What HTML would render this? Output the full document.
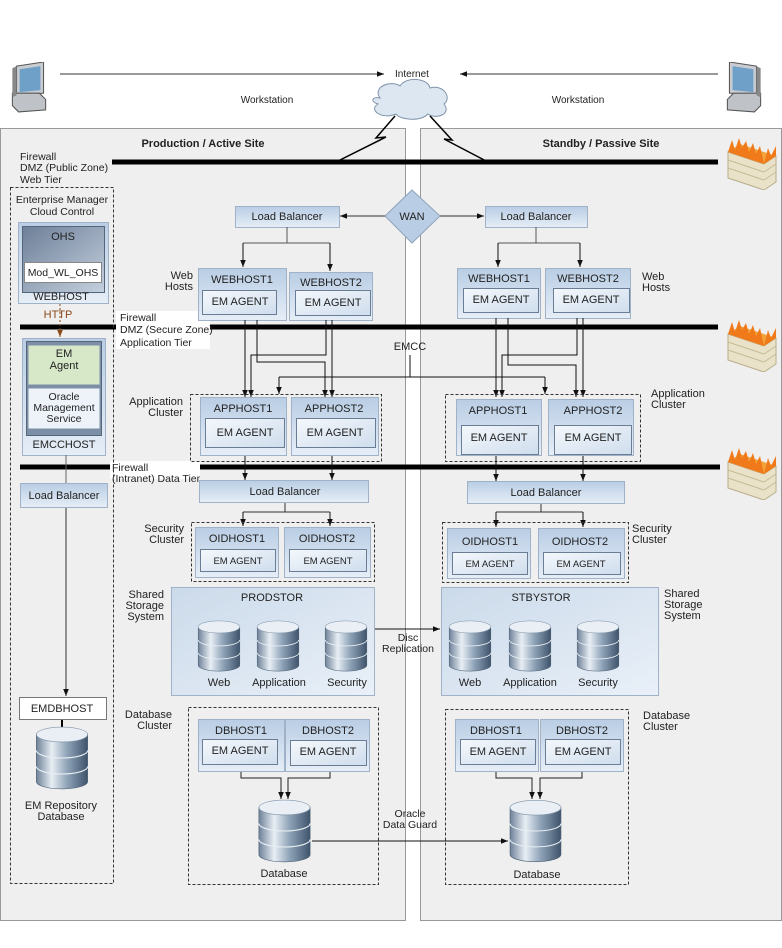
<!DOCTYPE html>
<html><head><meta charset="utf-8"><style>
body{margin:0;background:#fff}
svg{display:block;font-family:"Liberation Sans",sans-serif;font-size:11px;fill:#222}
</style></head><body>
<svg width="782" height="948" viewBox="0 0 782 948" xmlns="http://www.w3.org/2000/svg">
<defs>
<linearGradient id="hb" x1="0" y1="0" x2="0" y2="1"><stop offset="0" stop-color="#b9cde4"/><stop offset="1" stop-color="#e6eef7"/></linearGradient>
<linearGradient id="ib" x1="0" y1="0" x2="1" y2="1"><stop offset="0" stop-color="#f4f8fc"/><stop offset="1" stop-color="#cfdded"/></linearGradient>
<linearGradient id="sb" x1="0" y1="0" x2="1" y2="1"><stop offset="0" stop-color="#cbdaea"/><stop offset="1" stop-color="#e9f0f8"/></linearGradient>
<linearGradient id="cy" x1="0" y1="0" x2="1" y2="0"><stop offset="0" stop-color="#6f8299"/><stop offset=".3" stop-color="#e8eef4"/><stop offset=".6" stop-color="#8fa3b8"/><stop offset="1" stop-color="#3f536b"/></linearGradient>
<linearGradient id="dk" x1="0" y1="0" x2="1" y2="1"><stop offset="0" stop-color="#6d7f98"/><stop offset="1" stop-color="#c4d0de"/></linearGradient>
<marker id="a" viewBox="0 0 10 10" refX="10" refY="5" markerWidth="7" markerHeight="7" orient="auto"><path d="M0,1 L10,5 L0,9 z" fill="#111"/></marker>
<marker id="ab" viewBox="0 0 10 10" refX="10" refY="5" markerWidth="7" markerHeight="7" orient="auto"><path d="M0,1 L10,5 L0,9 z" fill="#8a4a1a"/></marker>
<symbol id="cyl" viewBox="0 0 50 60">
<path d="M1,8 V52 A24,7 0 0 0 49,52 V8 z" fill="url(#cy)" stroke="#4a5d72" stroke-width=".6"/>
<path d="M1,23 A24,7 0 0 0 49,23 M1,38 A24,7 0 0 0 49,38" fill="none" stroke="#e8eef4" stroke-width="1"/>
<ellipse cx="25" cy="8" rx="24" ry="7" fill="#e9eff5" stroke="#7f92a8" stroke-width=".6"/>
</symbol>
<symbol id="fw" viewBox="0 0 56 52">
<path d="M4,14 L40,26 L52,18 L52,44 L40,52 L4,40 z" fill="#e9e2c8" stroke="#b8ad8a"/>
<path d="M4,14 L40,26 L52,18 L16,6 z" fill="#f2a33a"/>
<path d="M4,14 L8,2 L11,12 L15,0 L18,10 L22,3 L25,14 L29,5 L32,16 L36,8 L40,26 L44,10 L47,18 L52,8 L52,18 L40,26 z" fill="#f07a1a"/>
<path d="M4,22 L40,34 M4,30 L40,42 M40,34 L52,26 M40,42 L52,34" stroke="#c6bb98" fill="none"/>
</symbol>
<symbol id="ws" viewBox="0 0 40 50">
<path d="M8,4 L34,0 L34,30 L8,32 z" fill="#c9cdd2" stroke="#555"/>
<path d="M11,7 L31,4 L31,27 L11,29 z" fill="#6fa0c8"/>
<path d="M4,30 L30,30 L36,36 L36,46 L10,48 L4,42 z" fill="#bfc3c8" stroke="#555"/>
<path d="M4,6 L8,4 L8,32 L4,34 z" fill="#888"/>
</symbol>
</defs>

<!-- panels -->
<rect x="0.5" y="128.5" width="405" height="792" fill="#efefef" stroke="#999"/>
<rect x="420.5" y="128.5" width="361" height="792" fill="#efefef" stroke="#999"/>
<text x="203" y="147" text-anchor="middle" font-weight="bold">Production / Active Site</text>
<text x="601" y="147" text-anchor="middle" font-weight="bold">Standby / Passive Site</text>

<!-- top -->
<use href="#ws" x="8" y="62" width="42" height="52"/>
<use href="#ws" x="722" y="62" width="44" height="52" transform="translate(1488,0) scale(-1,1)"/>
<line x1="60" y1="74" x2="384" y2="74" stroke="#333" marker-end="url(#a)"/>
<line x1="718" y1="74" x2="460" y2="74" stroke="#333" marker-end="url(#a)"/>
<text x="412" y="77" text-anchor="middle" font-size="10">Internet</text>
<text x="267" y="103" text-anchor="middle" font-size="10">Workstation</text>
<text x="578" y="103" text-anchor="middle" font-size="10">Workstation</text>
<path d="M380,98 C372,86 392,80 400,86 C406,76 428,78 430,88 C444,84 452,98 444,104 C452,114 436,120 428,114 C420,122 400,120 396,114 C382,120 368,110 378,104 C370,102 372,96 380,98 z" fill="#dde7f2" stroke="#8094aa"/>
<polyline points="395,116 376,138 386,137 336,162" fill="none" stroke="#000" stroke-width="1.5"/>
<polyline points="430,116 452,140 444,139 488,162" fill="none" stroke="#000" stroke-width="1.5"/>

<!-- firewalls -->
<line x1="112" y1="162" x2="718" y2="162" stroke="#000" stroke-width="5"/>
<text font-size="10.5"><tspan x="20" y="160">Firewall</tspan><tspan x="20" y="171">DMZ (Public Zone)</tspan><tspan x="20" y="183">Web Tier</tspan></text>
<use href="#fw" x="724" y="138" width="56" height="52"/>
<line x1="20" y1="327" x2="718" y2="327" stroke="#000" stroke-width="5"/>
<rect x="116" y="311" width="94" height="38" fill="#fff"/>
<text font-size="10.5"><tspan x="120" y="321">Firewall</tspan><tspan x="120" y="333">DMZ (Secure Zone)</tspan><tspan x="120" y="346">Application Tier</tspan></text>
<use href="#fw" x="724" y="320" width="56" height="52"/>
<line x1="20" y1="467" x2="720" y2="467" stroke="#000" stroke-width="5"/>
<rect x="110" y="461" width="90" height="18" fill="#fff"/>
<text font-size="10.5"><tspan x="112" y="471">Firewall</tspan><tspan x="112" y="482">(Intranet) Data Tier</tspan></text>
<use href="#fw" x="724" y="448" width="56" height="52"/>

<!-- EM box -->
<rect x="10.5" y="187.5" width="103" height="696" fill="none" stroke="#333" stroke-dasharray="3,2"/>
<text text-anchor="middle" font-size="10.5"><tspan x="62" y="203">Enterprise Manager</tspan><tspan x="62" y="215">Cloud Control</tspan></text>
<rect x="18.5" y="222.5" width="90" height="81" fill="url(#hb)" stroke="#9fb2c8"/>
<rect x="22.5" y="226.5" width="82" height="66" fill="url(#dk)" stroke="#55657a"/>
<text x="63" y="240" text-anchor="middle">OHS</text>
<rect x="24.5" y="262.5" width="77" height="20" fill="#fff" stroke="#888"/>
<text x="63" y="276" text-anchor="middle" font-size="10.5">Mod_WL_OHS</text>
<text x="61" y="300" text-anchor="middle">WEBHOST</text>
<text x="58" y="318" text-anchor="middle" fill="#8a4a1a">HTTP</text>
<line x1="60" y1="304" x2="60" y2="337" stroke="#8a4a1a" stroke-dasharray="2,2" marker-end="url(#ab)"/>
<rect x="22.5" y="338.5" width="83" height="117" fill="url(#hb)" stroke="#9fb2c8"/>
<rect x="26.5" y="341.5" width="75" height="94" fill="#7d8fa6" stroke="#55657a"/>
<rect x="28.5" y="345.5" width="71" height="39" fill="#d6e8c8"/>
<text text-anchor="middle"><tspan x="64" y="357">EM</tspan><tspan x="64" y="369">Agent</tspan></text>
<rect x="28.5" y="388.5" width="71" height="40" fill="#eef3fa"/>
<text text-anchor="middle" font-size="10.5"><tspan x="64" y="400">Oracle</tspan><tspan x="64" y="411">Management</tspan><tspan x="64" y="422">Service</tspan></text>
<text x="64" y="448" text-anchor="middle">EMCCHOST</text>
<line x1="66" y1="455" x2="66" y2="483" stroke="#666"/>
<rect x="20.5" y="483.5" width="87" height="24" fill="url(#hb)" stroke="#9fb2c8"/>
<text x="64" y="499" text-anchor="middle">Load Balancer</text>
<line x1="66" y1="508" x2="66" y2="696" stroke="#333" marker-end="url(#a)"/>
<rect x="19.5" y="697.5" width="87" height="22" fill="#fff" stroke="#777"/>
<text x="62" y="712" text-anchor="middle">EMDBHOST</text>
<line x1="62" y1="720" x2="62" y2="728" stroke="#000" stroke-width="2"/>
<use href="#cyl" x="32" y="726" width="60" height="64"/>
<text text-anchor="middle"><tspan x="61" y="809">EM Repository</tspan><tspan x="61" y="820">Database</tspan></text>

<!-- WAN -->
<polygon points="412,190 440,216 412,243 385,216" fill="#b9cde4" stroke="#8fa3bb"/>
<text x="412" y="220" text-anchor="middle">WAN</text>
<line x1="385" y1="216" x2="340" y2="216" stroke="#333" marker-end="url(#a)"/>
<line x1="440" y1="216" x2="484" y2="216" stroke="#333" marker-end="url(#a)"/>

<!-- LEFT load balancer & web hosts -->
<rect x="235.5" y="206.5" width="104" height="21" fill="url(#hb)" stroke="#9fb2c8"/>
<text x="287" y="220" text-anchor="middle">Load Balancer</text>
<path d="M287,227 V243 M243,243 H330" stroke="#555" fill="none"/>
<line x1="243" y1="243" x2="243" y2="267" stroke="#111" marker-end="url(#a)"/>
<line x1="330" y1="243" x2="330" y2="271" stroke="#111" marker-end="url(#a)"/>
<text text-anchor="end"><tspan x="193" y="279">Web</tspan><tspan x="193" y="290">Hosts</tspan></text>
<rect x="198.5" y="268.5" width="88" height="52" fill="url(#hb)" stroke="#9fb2c8"/>
<text x="242" y="283" text-anchor="middle">WEBHOST1</text>
<rect x="202.5" y="290.5" width="74" height="24" fill="url(#ib)" stroke="#6a7d94"/>
<text x="240" y="305" text-anchor="middle">EM AGENT</text>
<rect x="289.5" y="272.5" width="83" height="48" fill="url(#hb)" stroke="#9fb2c8"/>
<text x="331" y="286" text-anchor="middle">WEBHOST2</text>
<rect x="295.5" y="290.5" width="75" height="25" fill="url(#ib)" stroke="#6a7d94"/>
<text x="333" y="306" text-anchor="middle">EM AGENT</text>
<!-- web->app -->
<g stroke="#111" fill="none">
<line x1="245" y1="320" x2="245" y2="397" marker-end="url(#a)"/>
<path d="M257,320 V362 H325 V397" marker-end="url(#a)"/>
<path d="M326,320 V355 H251 V397" marker-end="url(#a)"/>
<line x1="332" y1="320" x2="332" y2="397" marker-end="url(#a)"/>
<path d="M410,355 V377"/>
<path d="M279,377 H545" />
<line x1="279" y1="377" x2="279" y2="394" marker-end="url(#a)"/>
<line x1="545" y1="377" x2="545" y2="394" marker-end="url(#a)"/>
</g>
<text x="410" y="350" text-anchor="middle">EMCC</text>
<rect x="190.5" y="394.5" width="191" height="67" fill="none" stroke="#333" stroke-dasharray="3,2"/>
<text text-anchor="end"><tspan x="183" y="405">Application</tspan><tspan x="183" y="416">Cluster</tspan></text>
<rect x="200.5" y="397.5" width="86" height="58" fill="url(#hb)" stroke="#9fb2c8"/>
<text x="243" y="412" text-anchor="middle">APPHOST1</text>
<rect x="205.5" y="418.5" width="79" height="29" fill="url(#ib)" stroke="#6a7d94"/>
<text x="245" y="436" text-anchor="middle">EM AGENT</text>
<rect x="291.5" y="397.5" width="87" height="58" fill="url(#hb)" stroke="#9fb2c8"/>
<text x="334" y="412" text-anchor="middle">APPHOST2</text>
<rect x="296.5" y="418.5" width="79" height="29" fill="url(#ib)" stroke="#6a7d94"/>
<text x="335" y="436" text-anchor="middle">EM AGENT</text>
<line x1="245" y1="456" x2="245" y2="480" stroke="#111" marker-end="url(#a)"/>
<line x1="332" y1="456" x2="332" y2="480" stroke="#111" marker-end="url(#a)"/>
<rect x="199.5" y="480.5" width="169" height="22" fill="url(#hb)" stroke="#9fb2c8"/>
<text x="285" y="495" text-anchor="middle">Load Balancer</text>
<path d="M285,503 V512 H243 M285,512 H330" stroke="#333" fill="none"/>
<line x1="243" y1="512" x2="243" y2="526" stroke="#111" marker-end="url(#a)"/>
<line x1="330" y1="512" x2="330" y2="526" stroke="#111" marker-end="url(#a)"/>
<rect x="191.5" y="522.5" width="183" height="59" fill="none" stroke="#333" stroke-dasharray="3,2"/>
<text text-anchor="end"><tspan x="184" y="532">Security</tspan><tspan x="184" y="543">Cluster</tspan></text>
<rect x="195.5" y="527.5" width="83" height="50" fill="url(#hb)" stroke="#9fb2c8"/>
<text x="237" y="542" text-anchor="middle">OIDHOST1</text>
<rect x="200.5" y="549.5" width="75" height="22" fill="url(#ib)" stroke="#6a7d94"/>
<text x="238" y="564" text-anchor="middle" font-size="9.5">EM AGENT</text>
<rect x="284.5" y="527.5" width="86" height="50" fill="url(#hb)" stroke="#9fb2c8"/>
<text x="327" y="542" text-anchor="middle">OIDHOST2</text>
<rect x="289.5" y="549.5" width="77" height="22" fill="url(#ib)" stroke="#6a7d94"/>
<text x="328" y="564" text-anchor="middle" font-size="9.5">EM AGENT</text>
<text text-anchor="end"><tspan x="164" y="598">Shared</tspan><tspan x="164" y="609">Storage</tspan><tspan x="164" y="620">System</tspan></text>
<rect x="171.5" y="587.5" width="203" height="108" fill="url(#sb)" stroke="#9fb2c8"/>
<text x="272" y="601" text-anchor="middle">PRODSTOR</text>
<use href="#cyl" x="197" y="620" width="44" height="52"/>
<use href="#cyl" x="256" y="620" width="44" height="52"/>
<use href="#cyl" x="324" y="620" width="44" height="52"/>
<text text-anchor="middle"><tspan x="219" y="686">Web</tspan><tspan x="279" y="686">Application</tspan><tspan x="347" y="686">Security</tspan></text>
<line x1="375" y1="629" x2="440" y2="629" stroke="#111" marker-end="url(#a)"/>
<text text-anchor="middle" font-size="10.5"><tspan x="408" y="641">Disc</tspan><tspan x="408" y="652">Replication</tspan></text>
<rect x="188.5" y="707.5" width="190" height="177" fill="none" stroke="#333" stroke-dasharray="3,2"/>
<text text-anchor="end"><tspan x="172" y="718">Database</tspan><tspan x="172" y="729">Cluster</tspan></text>
<rect x="198.5" y="719.5" width="86" height="52" fill="url(#hb)" stroke="#9fb2c8"/>
<text x="241" y="734" text-anchor="middle">DBHOST1</text>
<rect x="202.5" y="739.5" width="75" height="25" fill="url(#ib)" stroke="#6a7d94"/>
<text x="240" y="754" text-anchor="middle">EM AGENT</text>
<rect x="285.5" y="719.5" width="84" height="52" fill="url(#hb)" stroke="#9fb2c8"/>
<text x="328" y="734" text-anchor="middle">DBHOST2</text>
<rect x="290.5" y="740.5" width="76" height="25" fill="url(#ib)" stroke="#6a7d94"/>
<text x="328" y="755" text-anchor="middle">EM AGENT</text>
<path d="M241,772 V778 H281 V797 M330,772 V778 H288 V797" stroke="#222" fill="none"/>
<line x1="281" y1="790" x2="281" y2="799" stroke="#111" marker-end="url(#a)"/>
<line x1="288" y1="790" x2="288" y2="799" stroke="#111" marker-end="url(#a)"/>
<use href="#cyl" x="257" y="799" width="55" height="64"/>
<text x="284" y="877" text-anchor="middle">Database</text>
<line x1="312" y1="841" x2="508" y2="841" stroke="#111" marker-end="url(#a)"/>
<text text-anchor="middle" font-size="10.5"><tspan x="410" y="817">Oracle</tspan><tspan x="410" y="828">Data Guard</tspan></text>

<!-- RIGHT -->
<rect x="485.5" y="206.5" width="102" height="21" fill="url(#hb)" stroke="#9fb2c8"/>
<text x="536" y="220" text-anchor="middle">Load Balancer</text>
<path d="M536,227 V243 M498,243 H580" stroke="#555" fill="none"/>
<line x1="498" y1="243" x2="498" y2="267" stroke="#111" marker-end="url(#a)"/>
<line x1="580" y1="243" x2="580" y2="267" stroke="#111" marker-end="url(#a)"/>
<text><tspan x="642" y="280">Web</tspan><tspan x="642" y="291">Hosts</tspan></text>
<rect x="457.5" y="268.5" width="83" height="50" fill="url(#hb)" stroke="#9fb2c8"/>
<text x="499" y="282" text-anchor="middle">WEBHOST1</text>
<rect x="463.5" y="288.5" width="75" height="24" fill="url(#ib)" stroke="#6a7d94"/>
<text x="501" y="303" text-anchor="middle">EM AGENT</text>
<rect x="545.5" y="268.5" width="85" height="50" fill="url(#hb)" stroke="#9fb2c8"/>
<text x="588" y="282" text-anchor="middle">WEBHOST2</text>
<rect x="553.5" y="288.5" width="76" height="24" fill="url(#ib)" stroke="#6a7d94"/>
<text x="591" y="303" text-anchor="middle">EM AGENT</text>
<g stroke="#111" fill="none">
<line x1="496" y1="318" x2="496" y2="397" marker-end="url(#a)"/>
<path d="M508,318 V365 H576 V397" marker-end="url(#a)"/>
<path d="M577,318 V355 H502 V397" marker-end="url(#a)"/>
<line x1="583" y1="318" x2="583" y2="397" marker-end="url(#a)"/>
</g>
<rect x="445.5" y="394.5" width="195" height="67" fill="none" stroke="#333" stroke-dasharray="3,2"/>
<text><tspan x="651" y="397">Application</tspan><tspan x="651" y="408">Cluster</tspan></text>
<rect x="456.5" y="399.5" width="85" height="56" fill="url(#hb)" stroke="#9fb2c8"/>
<text x="498" y="414" text-anchor="middle">APPHOST1</text>
<rect x="461.5" y="425.5" width="77" height="29" fill="url(#ib)" stroke="#6a7d94"/>
<text x="499" y="441" text-anchor="middle">EM AGENT</text>
<rect x="548.5" y="399.5" width="85" height="56" fill="url(#hb)" stroke="#9fb2c8"/>
<text x="593" y="414" text-anchor="middle">APPHOST2</text>
<rect x="554.5" y="425.5" width="77" height="29" fill="url(#ib)" stroke="#6a7d94"/>
<text x="593" y="441" text-anchor="middle">EM AGENT</text>
<line x1="496" y1="456" x2="496" y2="481" stroke="#111" marker-end="url(#a)"/>
<line x1="583" y1="456" x2="583" y2="481" stroke="#111" marker-end="url(#a)"/>
<rect x="467.5" y="481.5" width="157" height="22" fill="url(#hb)" stroke="#9fb2c8"/>
<text x="546" y="496" text-anchor="middle">Load Balancer</text>
<path d="M541,504 V512 H496 M541,512 H583" stroke="#333" fill="none"/>
<line x1="496" y1="512" x2="496" y2="527" stroke="#111" marker-end="url(#a)"/>
<line x1="583" y1="512" x2="583" y2="527" stroke="#111" marker-end="url(#a)"/>
<rect x="442.5" y="522.5" width="186" height="60" fill="none" stroke="#333" stroke-dasharray="3,2"/>
<text><tspan x="632" y="532">Security</tspan><tspan x="632" y="543">Cluster</tspan></text>
<rect x="447.5" y="528.5" width="83" height="50" fill="url(#hb)" stroke="#9fb2c8"/>
<text x="490" y="545" text-anchor="middle">OIDHOST1</text>
<rect x="452.5" y="552.5" width="75" height="22" fill="url(#ib)" stroke="#6a7d94"/>
<text x="490" y="567" text-anchor="middle" font-size="9.5">EM AGENT</text>
<rect x="538.5" y="528.5" width="86" height="50" fill="url(#hb)" stroke="#9fb2c8"/>
<text x="580" y="545" text-anchor="middle">OIDHOST2</text>
<rect x="543.5" y="552.5" width="77" height="22" fill="url(#ib)" stroke="#6a7d94"/>
<text x="581" y="567" text-anchor="middle" font-size="9.5">EM AGENT</text>
<rect x="441.5" y="587.5" width="217" height="108" fill="url(#sb)" stroke="#9fb2c8"/>
<text x="541" y="601" text-anchor="middle">STBYSTOR</text>
<text><tspan x="664" y="597">Shared</tspan><tspan x="664" y="608">Storage</tspan><tspan x="664" y="619">System</tspan></text>
<use href="#cyl" x="448" y="620" width="44" height="52"/>
<use href="#cyl" x="508" y="620" width="44" height="52"/>
<use href="#cyl" x="576" y="620" width="44" height="52"/>
<text text-anchor="middle"><tspan x="470" y="686">Web</tspan><tspan x="530" y="686">Application</tspan><tspan x="598" y="686">Security</tspan></text>
<rect x="445.5" y="709.5" width="183" height="175" fill="none" stroke="#333" stroke-dasharray="3,2"/>
<text><tspan x="643" y="719">Database</tspan><tspan x="643" y="730">Cluster</tspan></text>
<rect x="455.5" y="719.5" width="83" height="52" fill="url(#hb)" stroke="#9fb2c8"/>
<text x="496" y="734" text-anchor="middle">DBHOST1</text>
<rect x="460.5" y="739.5" width="75" height="25" fill="url(#ib)" stroke="#6a7d94"/>
<text x="498" y="755" text-anchor="middle">EM AGENT</text>
<rect x="540.5" y="719.5" width="83" height="52" fill="url(#hb)" stroke="#9fb2c8"/>
<text x="582" y="734" text-anchor="middle">DBHOST2</text>
<rect x="545.5" y="739.5" width="75" height="25" fill="url(#ib)" stroke="#6a7d94"/>
<text x="583" y="755" text-anchor="middle">EM AGENT</text>
<path d="M496,772 V778 H532 V797 M582,772 V778 H540 V797" stroke="#222" fill="none"/>
<line x1="532" y1="790" x2="532" y2="799" stroke="#111" marker-end="url(#a)"/>
<line x1="540" y1="790" x2="540" y2="799" stroke="#111" marker-end="url(#a)"/>
<use href="#cyl" x="509" y="799" width="53" height="64"/>
<text x="537" y="878" text-anchor="middle">Database</text>
</svg>
</body></html>
